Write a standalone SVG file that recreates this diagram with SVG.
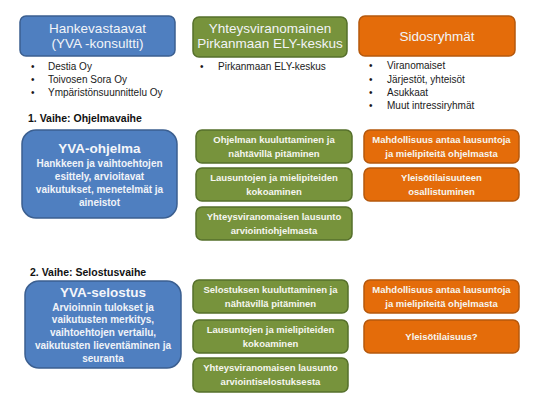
<svg xmlns="http://www.w3.org/2000/svg" width="560" height="420" viewBox="0 0 560 420">
<style>
.blue{fill:#4f7fc0;stroke:#3b5f90;stroke-width:1.5}
.green{fill:#77933c;stroke:#56702b;stroke-width:1.5}
.orange{fill:#e46c0a;stroke:#b5580c;stroke-width:1.5}
text{font-family:"Liberation Sans",Arial,sans-serif}
.hd{font-size:13.5px;fill:#f2f4f8;text-anchor:middle}
.bl{font-size:10px;fill:#1a1a1a}
.sec{font-size:10.5px;font-weight:bold;fill:#111}
.tt{font-size:13.5px;font-weight:bold;fill:#f4f6fa;text-anchor:middle}
.bd{font-size:10px;font-weight:bold;fill:#f0f3f8;text-anchor:middle}
.sm{font-size:9.5px;font-weight:bold;fill:#f6f6f0;text-anchor:middle}
</style>
<rect width="560" height="420" fill="#ffffff"/>
<g id="header-hankevastaavat">
<rect class="blue" x="20" y="16" width="155" height="40" rx="6"/>
<text class="hd" x="97.5" y="32.5">Hankevastaavat</text>
<text class="hd" x="97.5" y="47.5">(YVA -konsultti)</text>
</g>
<g id="header-yhteysviranomainen">
<rect class="green" x="193" y="17" width="154" height="40" rx="6"/>
<text class="hd" x="270" y="32.5">Yhteysviranomainen</text>
<text class="hd" x="270" y="47.5">Pirkanmaan ELY-keskus</text>
</g>
<g id="header-sidosryhmat">
<rect class="orange" x="359" y="16" width="156" height="40" rx="6"/>
<text class="hd" x="437" y="40.5">Sidosryhmät</text>
</g>
<g id="list-hankevastaavat">
<text class="bl" x="31" y="69.5">•</text><text class="bl" x="48" y="69.5">Destia Oy</text>
<text class="bl" x="31" y="82.5">•</text><text class="bl" x="48" y="82.5">Toivosen Sora Oy</text>
<text class="bl" x="31" y="95.5">•</text><text class="bl" x="48" y="95.5">Ympäristönsuunnittelu Oy</text>
</g>
<g id="list-yhteysviranomainen">
<text class="bl" x="200" y="69.5">•</text><text class="bl" x="218" y="69.5">Pirkanmaan ELY-keskus</text>
</g>
<g id="list-sidosryhmat">
<text class="bl" x="369" y="69">•</text><text class="bl" x="387" y="69">Viranomaiset</text>
<text class="bl" x="369" y="82.5">•</text><text class="bl" x="387" y="82.5">Järjestöt, yhteisöt</text>
<text class="bl" x="369" y="95.5">•</text><text class="bl" x="387" y="95.5">Asukkaat</text>
<text class="bl" x="369" y="109">•</text><text class="bl" x="387" y="109">Muut intressiryhmät</text>
</g>
<text class="sec" x="28" y="122">1. Vaihe: Ohjelmavaihe</text>
<g id="yva-ohjelma">
<rect class="blue" x="22" y="130" width="155" height="88" rx="14"/>
<text class="tt" x="99.5" y="152.5">YVA-ohjelma</text>
<text class="bd" x="99.5" y="166.5">Hankkeen ja vaihtoehtojen</text>
<text class="bd" x="99.5" y="179.5">esittely,  arvioitavat</text>
<text class="bd" x="99.5" y="192.5">vaikutukset, menetelmät ja</text>
<text class="bd" x="99.5" y="205.5">aineistot</text>
</g>
<g id="p1-kuuluttaminen">
<rect class="green" x="196" y="130" width="156" height="33" rx="6"/>
<text class="sm" x="274" y="142.8">Ohjelman kuuluttaminen ja</text>
<text class="sm" x="274" y="156.8">nähtävillä pitäminen</text>
</g>
<g id="p1-lausuntojen">
<rect class="green" x="196" y="168" width="156" height="33" rx="6"/>
<text class="sm" x="274" y="180.8">Lausuntojen ja mielipiteiden</text>
<text class="sm" x="274" y="194.8">kokoaminen</text>
</g>
<g id="p1-yhteysviranomaisen">
<rect class="green" x="196" y="207" width="156" height="33" rx="6"/>
<text class="sm" x="274" y="219.8">Yhteysviranomaisen lausunto</text>
<text class="sm" x="274" y="233.8">arviointiohjelmasta</text>
</g>
<g id="p1-mahdollisuus">
<rect class="orange" x="364" y="130" width="155" height="33" rx="6"/>
<text class="sm" x="441.5" y="142.8">Mahdollisuus antaa lausuntoja</text>
<text class="sm" x="441.5" y="156.8">ja mielipiteitä ohjelmasta</text>
</g>
<g id="p1-yleisotilaisuuteen">
<rect class="orange" x="364" y="168" width="155" height="33" rx="6"/>
<text class="sm" x="441.5" y="180.8">Yleisötilaisuuteen</text>
<text class="sm" x="441.5" y="194.8">osallistuminen</text>
</g>
<text class="sec" x="30" y="276">2. Vaihe: Selostusvaihe</text>
<g id="yva-selostus">
<rect class="blue" x="25" y="281" width="156" height="87" rx="14"/>
<text class="tt" x="103" y="296.5">YVA-selostus</text>
<text class="bd" x="103" y="310.5">Arvioinnin tulokset ja</text>
<text class="bd" x="103" y="323.3">vaikutusten merkitys,</text>
<text class="bd" x="103" y="336.1">vaihtoehtojen vertailu,</text>
<text class="bd" x="103" y="348.9">vaikutusten lieventäminen ja</text>
<text class="bd" x="103" y="361.7">seuranta</text>
</g>
<g id="p2-kuuluttaminen">
<rect class="green" x="193" y="280" width="155" height="33" rx="6"/>
<text class="sm" x="270.5" y="292.8">Selostuksen kuuluttaminen ja</text>
<text class="sm" x="270.5" y="306.8">nähtävillä pitäminen</text>
</g>
<g id="p2-lausuntojen">
<rect class="green" x="193" y="320" width="155" height="33" rx="6"/>
<text class="sm" x="270.5" y="332.8">Lausuntojen ja mielipiteiden</text>
<text class="sm" x="270.5" y="346.8">kokoaminen</text>
</g>
<g id="p2-yhteysviranomaisen">
<rect class="green" x="193" y="358" width="155" height="34" rx="6"/>
<text class="sm" x="270.5" y="371.3">Yhteysviranomaisen lausunto</text>
<text class="sm" x="270.5" y="385.3">arviointiselostuksesta</text>
</g>
<g id="p2-mahdollisuus">
<rect class="orange" x="364" y="280" width="155" height="33" rx="6"/>
<text class="sm" x="441.5" y="292.8">Mahdollisuus antaa lausuntoja</text>
<text class="sm" x="441.5" y="306.8">ja mielipiteitä ohjelmasta</text>
</g>
<g id="p2-yleisotilaisuus">
<rect class="orange" x="364" y="320" width="155" height="33" rx="6"/>
<text class="sm" x="441.5" y="339.8">Yleisötilaisuus?</text>
</g>
<g id="connectors"></g>
</svg>
